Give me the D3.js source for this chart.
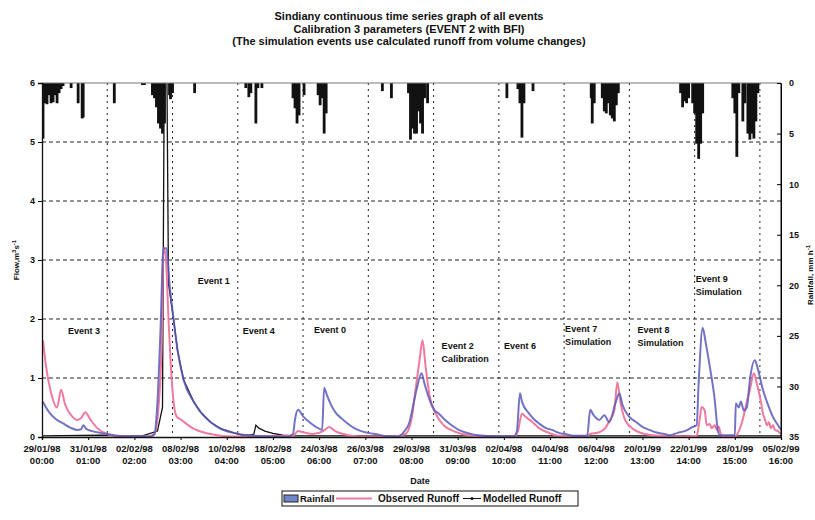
<!DOCTYPE html>
<html>
<head>
<meta charset="utf-8">
<script src="https://cdn.jsdelivr.net/npm/d3@7/dist/d3.min.js"></script>
<style>
  body { margin: 0; background: #fff; }
  text { font-family: "Liberation Sans", Arial, sans-serif; font-weight: bold; fill: #111; }
</style>
</head>
<body>
<div id="chart"></div>
<script>
// hour index labels along the bottom (every 46 h)
var dateLabels = ['29/01/98', '31/01/98', '02/02/98', '08/02/98', '10/02/98', '18/02/98', '24/03/98', '26/03/98',
  '29/03/98', '31/03/98', '02/04/98', '04/04/98', '06/04/98', '20/01/99', '22/01/99', '28/01/99', '05/02/99'];
var timeLabels = ['00:00', '01:00', '02:00', '03:00', '04:00', '05:00', '06:00', '07:00', '08:00',
  '09:00', '10:00', '11:00', '12:00', '13:00', '14:00', '15:00', '16:00'];
var flowTicks = [0, 1, 2, 3, 4, 5, 6];
var rainTicks = [0, 5, 10, 15, 20, 25, 30, 35];

// rainfall [hour, mm/h]
var rainfall = [[1, 5.5], [3, 2.0], [5, 2.1], [7, 1.2], [9, 2.0], [11, 1.9], [13, 1.2], [15, 2.0], [17, 1.0],
  [19, 0.6], [21, 0.3], [29, 0.5], [36, 2.0], [40, 3.5], [41, 3.4], [72, 2.0], [100, 0.2], [102, 0.2],
  [110, 1.2], [112, 1.5], [114, 2.4], [116, 4.0], [118, 4.5], [120, 5.0], [122, 4.0], [127, 1.2], [128, 1.6],
  [130, 1.0], [152, 1.0], [203, 0.5], [206, 1.4], [208, 1.0], [213, 4.0], [215, 0.5], [219, 0.5],
  [250, 1.5], [252, 2.5], [254, 4.0], [256, 3.2], [261, 1.2], [275, 1.2], [277, 2.2], [279, 1.5], [281, 5.0],
  [283, 3.0], [339, 0.8], [348, 1.5], [365, 1.0], [367, 5.6], [369, 4.5], [371, 5.0], [373, 5.0], [375, 2.8],
  [377, 4.0], [379, 5.0], [381, 1.5], [384, 2.0], [463, 1.5], [474, 0.6], [476, 2.0], [478, 5.4], [480, 2.0],
  [489, 0.8], [547, 1.5], [548, 4.0], [550, 2.0], [558, 1.5], [560, 2.8], [562, 3.0], [564, 2.0], [566, 3.2],
  [568, 3.5], [570, 3.8], [572, 2.2], [574, 1.0], [636, 1.0], [638, 2.4], [640, 1.8], [642, 2.0], [644, 1.5],
  [648, 2.0], [650, 3.0], [652, 6.0], [654, 7.5], [656, 6.0], [658, 3.0], [688, 1.5], [690, 3.0], [692, 7.3],
  [694, 1.0], [698, 3.8], [700, 2.0], [703, 5.0], [705, 5.6], [707, 5.0], [709, 5.5], [711, 3.8], [713, 1.0]];

// observed runoff [hour, m3/s]
var observedRunoff = [[1, 1.64], [4, 1.2], [9, 0.75], [15, 0.5], [19, 0.8], [23, 0.55], [30, 0.35], [35, 0.29],
  [39, 0.32], [43, 0.42], [48, 0.3], [55, 0.15], [65, 0.05], [73, 0.02], [90, 0.01], [105, 0.01], [112, 0.05],
  [116, 0.5], [119, 1.5], [121, 3.2], [123, 3.1], [126, 2.0], [128, 1.3], [131, 0.6], [134, 0.35], [138, 0.3],
  [150, 0.15], [165, 0.06], [190, 0.01], [250, 0.02], [255, 0.1], [260, 0.08], [270, 0.05], [280, 0.1],
  [286, 0.17], [292, 0.1], [300, 0.05], [315, 0.01], [350, 0.01], [362, 0.05], [368, 0.3], [372, 0.8],
  [376, 1.3], [379, 1.64], [382, 1.2], [386, 0.7], [392, 0.4], [400, 0.2], [410, 0.1], [425, 0.03], [440, 0.01],
  [470, 0.01], [474, 0.1], [478, 0.4], [481, 0.35], [488, 0.26], [495, 0.15], [505, 0.07], [515, 0.02],
  [540, 0.01], [546, 0.05], [555, 0.08], [561, 0.15], [566, 0.3], [570, 0.45], [573, 0.93], [576, 0.6],
  [581, 0.28], [590, 0.12], [600, 0.05], [615, 0.02], [640, 0.01], [652, 0.02], [655, 0.3], [657, 0.51],
  [660, 0.45], [662, 0.2], [665, 0.22], [667, 0.15], [670, 0.2], [672, 0.12], [674, 0.18], [676, 0.05],
  [680, 0.01], [690, 0.01], [694, 0.1], [698, 0.3], [702, 0.6], [705, 0.8], [709, 1.08], [712, 0.9],
  [716, 0.6], [718, 0.4], [720, 0.3], [722, 0.2], [724, 0.25], [726, 0.15], [728, 0.2], [730, 0.12],
  [733, 0.1], [736, 0.05]];

// simulated runoff, blue trace [hour, m3/s]
var simulatedRunoff = [[1, 0.6], [4, 0.5], [8, 0.4], [14, 0.3], [21, 0.23], [28, 0.16], [35, 0.12], [39, 0.13],
  [41, 0.2], [44, 0.14], [50, 0.1], [58, 0.07], [65, 0.05], [75, 0.02], [90, 0.01], [108, 0.01], [112, 0.05],
  [115, 0.6], [118, 1.8], [121, 3.2], [124, 3.2], [127, 2.6], [131, 2.0], [135, 1.47], [141, 0.97], [151, 0.6],
  [158, 0.42], [168, 0.25], [178, 0.14], [191, 0.07], [205, 0.03], [230, 0.01], [245, 0.01], [250, 0.05],
  [252, 0.3], [255, 0.46], [260, 0.35], [268, 0.23], [275, 0.15], [279, 0.12], [281, 0.83], [284, 0.7],
  [288, 0.54], [293, 0.4], [298, 0.32], [305, 0.22], [311, 0.15], [318, 0.1], [325, 0.07], [335, 0.04],
  [345, 0.01], [355, 0.01], [361, 0.1], [366, 0.25], [368, 0.4], [373, 0.8], [378, 1.08], [381, 0.9],
  [385, 0.68], [391, 0.45], [395, 0.4], [402, 0.28], [408, 0.2], [415, 0.12], [421, 0.08], [430, 0.04],
  [440, 0.02], [455, 0.01], [470, 0.01], [473, 0.1], [476, 0.74], [478, 0.6], [485, 0.4], [490, 0.3],
  [495, 0.23], [502, 0.15], [508, 0.12], [515, 0.07], [521, 0.05], [530, 0.02], [543, 0.02], [546, 0.46],
  [549, 0.38], [555, 0.29], [560, 0.37], [565, 0.25], [571, 0.57], [575, 0.74], [578, 0.55], [585, 0.34],
  [592, 0.25], [598, 0.17], [605, 0.12], [611, 0.08], [620, 0.05], [625, 0.03], [633, 0.07], [640, 0.1],
  [648, 0.17], [652, 0.2], [654, 0.92], [658, 1.85], [661, 1.6], [665, 1.2], [670, 0.63], [673, 0.12],
  [675, 0.03], [690, 0.03], [691, 0.57], [694, 0.5], [696, 0.6], [699, 0.45], [702, 0.5], [705, 0.97],
  [710, 1.3], [713, 1.15], [718, 0.8], [723, 0.55], [728, 0.34], [733, 0.2], [736, 0.12]];

// modelled runoff, black trace [hour, m3/s]
var modelledRunoff = [[0, 0.02], [60, 0.03], [80, 0.02], [100, 0.02], [115, 0.1], [120, 0.5], [122, 7.0],
  [124, 7.0], [126, 2.6], [131, 2.0], [135, 1.47], [141, 0.97], [151, 0.6], [158, 0.42], [168, 0.25],
  [178, 0.14], [191, 0.07], [200, 0.03], [208, 0.03], [211, 0.05], [213, 0.2], [216, 0.15], [222, 0.1],
  [230, 0.06], [240, 0.03], [250, 0.02], [350, 0.02], [450, 0.02], [540, 0.02], [640, 0.02], [736, 0.02]];

// event annotations [hour, flow, line1, line2]
var eventNotes = [[26, 1.75, 'Event 3', ''], [155, 2.6, 'Event 1', ''], [200, 1.75, 'Event 4', ''],
  [271, 1.76, 'Event 0', ''], [398, 1.5, 'Event 2', 'Calibration'], [460, 1.5, 'Event 6', ''],
  [521, 1.78, 'Event 7', 'Simulation'], [593, 1.77, 'Event 8', 'Simulation'], [651, 2.63, 'Event 9', 'Simulation']];

var svgWidth = 815;
var svgHeight = 520;
var plot = { left: 42, right: 781, top: 83, bottom: 437 };

var svg = d3.select('#chart').append('svg')
  .attr('width', svgWidth)
  .attr('height', svgHeight);

// scales
var xScale = d3.scaleLinear().domain([0, 736]).range([plot.left, plot.right]);
var yFlow = d3.scaleLinear().domain([0, 6]).range([plot.bottom, plot.top]);
var yRain = d3.scaleLinear().domain([0, 35]).range([plot.top, plot.bottom]);

svg.append('clipPath').attr('id', 'clip')
  .append('rect')
  .attr('x', plot.left).attr('y', plot.top)
  .attr('width', plot.right - plot.left).attr('height', plot.bottom - plot.top);

// titles
var titles = ['Sindiany continuous time series graph of all events',
  'Calibration 3 parameters (EVENT 2 with BFI)',
  '(The simulation events use calculated runoff from volume changes)'];
svg.selectAll('.title').data(titles).enter().append('text')
  .attr('x', 409).attr('y', (d, i) => 20 + i * 12.5)
  .attr('text-anchor', 'middle')
  .attr('font-size', '11px')
  .text(d => d);

// gridlines
var grid = svg.append('g');
grid.selectAll('.hgrid').data(flowTicks.filter(d => d > 0 && d < 6)).enter().append('line')
  .attr('x1', plot.left).attr('x2', plot.right)
  .attr('y1', d => yFlow(d)).attr('y2', d => yFlow(d))
  .attr('stroke', '#222').attr('stroke-dasharray', '4,3');
grid.selectAll('.vgrid').data(d3.range(65, 736, 65)).enter().append('line')
  .attr('x1', d => xScale(d)).attr('x2', d => xScale(d))
  .attr('y1', plot.top).attr('y2', plot.bottom)
  .attr('stroke', '#222').attr('stroke-dasharray', '2,4');

var plotArea = svg.append('g').attr('clip-path', 'url(#clip)');

// rainfall bars hanging from the top
var barWidth = xScale(2) - xScale(0) + 0.8;
plotArea.selectAll('.rain').data(rainfall).enter().append('rect')
  .attr('x', d => xScale(d[0]) - barWidth / 2)
  .attr('y', plot.top)
  .attr('width', barWidth)
  .attr('height', d => yRain(d[1]) - plot.top)
  .attr('fill', '#111');

var line = d3.line()
  .x(d => xScale(d[0]))
  .y(d => yFlow(d[1]))
  .curve(d3.curveMonotoneX);

plotArea.append('path').datum(modelledRunoff)
  .attr('d', d3.line().x(d => xScale(d[0])).y(d => yFlow(d[1])))
  .attr('fill', 'none')
  .attr('stroke', '#111').attr('stroke-width', 1.3);

plotArea.append('path').datum(observedRunoff)
  .attr('d', line).attr('fill', 'none')
  .attr('stroke', '#f07a9e').attr('stroke-width', 2);

plotArea.append('path').datum(simulatedRunoff)
  .attr('d', line).attr('fill', 'none')
  .attr('stroke', '#5a5abc').attr('stroke-width', 2).attr('stroke-opacity', 0.85);

// frame
svg.append('line').attr('x1', plot.left).attr('x2', plot.right).attr('y1', plot.top).attr('y2', plot.top)
  .attr('stroke', '#777');
svg.append('line').attr('x1', plot.right).attr('x2', plot.right).attr('y1', plot.top).attr('y2', plot.bottom)
  .attr('stroke', '#111');

// left axis
var leftAxis = d3.axisLeft(yFlow).tickValues(flowTicks).tickSize(4).tickFormat(d3.format('d'));
var gLeft = svg.append('g').attr('transform', `translate(${plot.left},0)`).call(leftAxis);
gLeft.selectAll('text').attr('font-size', '9px').attr('font-family', null);
gLeft.select('.domain').attr('stroke', '#111').attr('stroke-width', 1.3);

// right axis (inverted rainfall)
var rightAxis = d3.axisRight(yRain).tickValues(rainTicks).tickSizeInner(-4).tickSizeOuter(0).tickPadding(8);
var gRight = svg.append('g').attr('transform', `translate(${plot.right},0)`).call(rightAxis);
gRight.selectAll('text').attr('font-size', '9px').attr('font-family', null);

// bottom axis
var bottomAxis = d3.axisBottom(xScale).tickValues(d3.range(0, 737, 46)).tickSize(3).tickFormat('');
var gBottom = svg.append('g').attr('transform', `translate(0,${plot.bottom})`).call(bottomAxis);
gBottom.select('.domain').attr('stroke', '#111').attr('stroke-width', 1.3);

var labels = svg.append('g').selectAll('text').data(dateLabels).enter().append('text')
  .attr('text-anchor', 'middle')
  .attr('font-size', '9.5px')
  .attr('transform', (d, i) => `translate(${xScale(i * 46)},452)`);
labels.append('tspan').attr('x', 0).attr('y', 0).text(d => d);
labels.append('tspan').attr('x', 0).attr('y', 12).text((d, i) => timeLabels[i]);

// axis titles
svg.append('text').attr('x', 420).attr('y', 484).attr('text-anchor', 'middle')
  .attr('font-size', '9px').text('Date');

var flowTitle = svg.append('text').attr('transform', 'translate(19,260) rotate(-90)')
  .attr('text-anchor', 'middle').attr('font-size', '8px');
flowTitle.append('tspan').text('Flow,m');
flowTitle.append('tspan').attr('dy', -3).attr('font-size', '6px').text('3');
flowTitle.append('tspan').attr('dy', 3).text('s');
flowTitle.append('tspan').attr('dy', -3).attr('font-size', '6px').text('-1');

var rainTitle = svg.append('text').attr('transform', 'translate(813,275) rotate(-90)')
  .attr('text-anchor', 'middle').attr('font-size', '8px');
rainTitle.append('tspan').text('Rainfall, mm h');
rainTitle.append('tspan').attr('dy', -3).attr('font-size', '6px').text('-1');

// event labels
var notes = svg.append('g').selectAll('text').data(eventNotes).enter().append('text')
  .attr('font-size', '9px')
  .attr('transform', d => `translate(${xScale(d[0])},${yFlow(d[1])})`);
notes.append('tspan').attr('x', 0).attr('y', 0).text(d => d[2]);
notes.append('tspan').attr('x', 0).attr('y', 13).text(d => d[3]);

// legend
var legend = svg.append('g').attr('transform', 'translate(282,491)');
legend.append('rect').attr('width', 296).attr('height', 15)
  .attr('fill', '#fff').attr('stroke', '#111');
legend.append('rect').attr('x', 2).attr('y', 4).attr('width', 14).attr('height', 7)
  .attr('fill', '#6f86c8').attr('stroke', '#222');
legend.append('text').attr('x', 18).attr('y', 11).attr('font-size', '9.5px').text('Rainfall');
legend.append('line').attr('x1', 54).attr('x2', 90).attr('y1', 7.5).attr('y2', 7.5)
  .attr('stroke', '#f07a9e').attr('stroke-width', 2);
legend.append('text').attr('x', 96).attr('y', 11).attr('font-size', '10px').text('Observed Runoff');
legend.append('line').attr('x1', 181).attr('x2', 199).attr('y1', 7.5).attr('y2', 7.5)
  .attr('stroke', '#111');
legend.append('circle').attr('cx', 190).attr('cy', 7.5).attr('r', 1.5).attr('fill', '#111');
legend.append('text').attr('x', 201).attr('y', 11).attr('font-size', '10px').text('Modelled Runoff');
</script>
</body>
</html>
